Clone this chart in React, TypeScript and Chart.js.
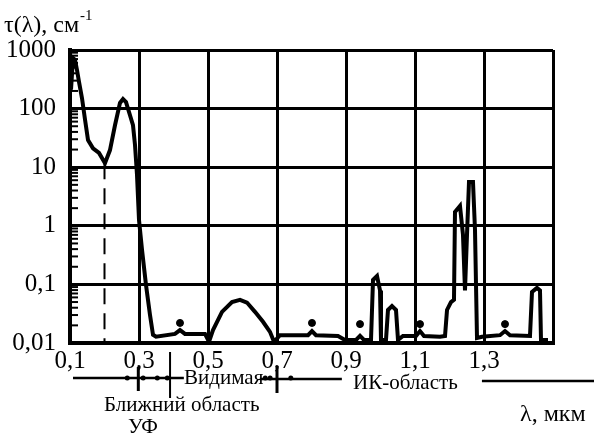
import React, { useEffect, useRef } from "react";
import { Chart, registerables } from "chart.js";

Chart.register(...registerables);

// Wavelength, µm
const WAVELENGTH = [
  0.1029, 0.1087, 0.1145, 0.1203, 0.1261, 0.1348, 0.1435, 0.1522, 0.1667, 0.1841,
  0.2014, 0.2159, 0.2304, 0.2449, 0.2536, 0.2623, 0.2739, 0.2826, 0.2884, 0.2942,
  0.3, 0.3087, 0.3203, 0.3319, 0.3406, 0.3493, 0.4043, 0.4188, 0.4333, 0.4913,
  0.5029, 0.5145, 0.5406, 0.5696, 0.5928, 0.613, 0.6362, 0.6594, 0.6797, 0.6913,
  0.7087, 0.7899, 0.8014, 0.813, 0.8768, 0.8971, 0.929, 0.9406, 0.9522, 0.9725,
  0.9783, 0.9899, 0.9986, 1.0014, 1.0159, 1.0217, 1.0333, 1.0449, 1.0507, 1.0652,
  1.1029, 1.1145, 1.1261, 1.1725, 1.187, 1.1928, 1.2043, 1.213, 1.2159, 1.2304,
  1.2391, 1.2449, 1.2507, 1.2565, 1.2681, 1.2739, 1.2797, 1.2942, 1.3464, 1.3609,
  1.3754, 1.4333, 1.4391, 1.4536, 1.4623, 1.4652, 1.4855,
];
// Absorption coefficient τ(λ), cm^-1
const TAU = [
  210, 730, 680, 455, 285, 150, 65, 29, 21, 17.5,
  11.7, 19.6, 52, 125, 146, 129, 77, 52, 24, 7.4,
  1.26, 0.39, 0.098, 0.03, 0.0138, 0.0128, 0.0143, 0.0166, 0.0143, 0.0143,
  0.0105, 0.0166, 0.034, 0.05, 0.0546, 0.049, 0.034, 0.023, 0.0155, 0.0105,
  0.0136, 0.0136, 0.016, 0.0136, 0.0132, 0.0113, 0.0113, 0.0132, 0.0113, 0.0113,
  0.119, 0.139, 0.079, 0.0113, 0.0113, 0.0366, 0.0427, 0.0366, 0.0113, 0.0132,
  0.0132, 0.016, 0.0132, 0.0128, 0.0132, 0.0366, 0.05, 0.0546, 1.72, 2.18,
  0.7, 0.079, 0.7, 5.6, 5.6, 0.85, 0.0122, 0.0128, 0.0136, 0.016,
  0.0136, 0.0132, 0.074, 0.087, 0.079, 0.0113, 0.0113,
];
// small marks above the baseline
const DOT_X = [0.4188, 0.8014, 0.9406, 1.1145, 1.3609];
const DOT_Y = [0.022, 0.022, 0.021, 0.021, 0.021];
// dashed vertical marker
const DASH_X = [0.2, 0.2];
const DASH_Y = [11.7, 0.01];

const X_TICKS = [0.1, 0.3, 0.5, 0.7, 0.9, 1.1, 1.3, 1.5];
const Y_TICKS = [0.01, 0.1, 1, 10, 100, 1000];
const Y_LABELS = ["0,01", "0,1", "1", "10", "100", "1000"];

const Y_TITLE = "τ(λ), см";
const Y_TITLE_SUP = "-1";
const X_TITLE = "λ, мкм";
const REGION_VIS = "Видимая";
const REGION_UV_1 = "Ближний область";
const REGION_UV_2 = "УФ";
const REGION_IR = "ИК-область";

const FONT = "'Liberation Serif', 'Times New Roman', serif";

const decorPlugin = {
  id: "decor",
  afterDraw(chart: any) {
    const ctx = chart.ctx;
    const xs = chart.scales.x;
    const ys = chart.scales.y;
    const area = chart.chartArea;
    ctx.save();
    // minor comb ticks on left axis
    ctx.strokeStyle = "#000";
    ctx.lineWidth = 2;
    for (let d = -2; d <= 2; d++) {
      for (let k = 2; k <= 9; k++) {
        const py = ys.getPixelForValue(k * Math.pow(10, d));
        ctx.beginPath();
        ctx.moveTo(area.left, py);
        ctx.lineTo(area.left + 8, py);
        ctx.stroke();
      }
    }
    // titles
    ctx.fillStyle = "#000";
    ctx.textBaseline = "alphabetic";
    ctx.textAlign = "left";
    ctx.font = `24px ${FONT}`;
    ctx.fillText(Y_TITLE, 4, 32);
    const w = ctx.measureText(Y_TITLE).width;
    ctx.font = `15px ${FONT}`;
    ctx.fillText(Y_TITLE_SUP, 4 + w + 1, 20);

    ctx.font = `24px ${FONT}`;
    ctx.fillText(X_TITLE, 520, 421);
    ctx.font = `21px ${FONT}`;
    ctx.fillText(REGION_IR, 353, 389);
    ctx.fillText(REGION_UV_1, 104, 411);
    ctx.fillText(REGION_UV_2, 128, 433);
    ctx.fillText(REGION_VIS, 184, 384);

    // region bar
    const yb = 378;
    ctx.lineWidth = 2.5;
    const seg = (a: number, b: number, y: number) => {
      ctx.beginPath();
      ctx.moveTo(a, y);
      ctx.lineTo(b, y);
      ctx.stroke();
    };
    seg(xs.getPixelForValue(0.1) + 3, xs.getPixelForValue(0.43), yb);
    seg(xs.getPixelForValue(0.65), xs.getPixelForValue(0.888), yb + 1);
    seg(xs.getPixelForValue(1.294), 594, yb + 3);
    const vt = (v: number, y1: number, y2: number, lw: number) => {
      const px = xs.getPixelForValue(v);
      ctx.lineWidth = lw;
      ctx.beginPath();
      ctx.moveTo(px, y1);
      ctx.lineTo(px, y2);
      ctx.stroke();
    };
    vt(0.298, 367, 391, 3);
    vt(0.39, 352, 398, 2);
    vt(0.7, 366, 393, 3);
    const dots = [0.266, 0.312, 0.353, 0.382, 0.666, 0.68, 0.74];
    for (const v of dots) {
      ctx.beginPath();
      ctx.arc(xs.getPixelForValue(v), yb, 2.5, 0, Math.PI * 2);
      ctx.fill();
    }
    ctx.restore();
  },
};

export default function App() {
  const ref = useRef<HTMLCanvasElement>(null);
  useEffect(() => {
    if (!ref.current) return;
    const chart = new Chart(ref.current, {
      type: "line",
      data: {
        datasets: [
          {
            data: WAVELENGTH.map((x, i) => ({ x, y: TAU[i] })),
            borderColor: "#000",
            borderWidth: 4,
            pointRadius: 0,
            tension: 0,
            fill: false,
          },
          {
            data: DOT_X.map((x, i) => ({ x, y: DOT_Y[i] })),
            showLine: false,
            pointRadius: 3.5,
            pointBackgroundColor: "#000",
            pointBorderColor: "#000",
          },
          {
            data: DASH_X.map((x, i) => ({ x, y: DASH_Y[i] })),
            borderColor: "#000",
            borderWidth: 2,
            borderDash: [16, 9],
            pointRadius: 0,
          },
        ],
      },
      plugins: [decorPlugin],
      options: {
        responsive: false,
        animation: false,
        events: [],
        layout: { padding: { top: 50, right: 41, left: 0, bottom: 0 } },
        plugins: { legend: { display: false }, tooltip: { enabled: false }, title: { display: false } },
        scales: {
          x: {
            type: "linear",
            min: 0.1,
            max: 1.5,
            afterBuildTicks: (s: any) => {
              s.ticks = X_TICKS.map((v) => ({ value: v }));
            },
            afterFit: (s: any) => {
              s.height = 93;
            },
            ticks: {
              autoSkip: false,
              maxRotation: 0,
              padding: 3,
              color: "#000",
              font: { family: FONT, size: 25 },
              callback: (v: any) => (Math.abs(v - 1.5) < 1e-6 ? "" : Number(v).toFixed(1).replace(".", ",")),
            },
            grid: { color: "#000", lineWidth: 3, drawTicks: false },
            border: { color: "#000", width: 4 },
          },
          y: {
            type: "logarithmic",
            min: 0.01,
            max: 1000,
            afterBuildTicks: (s: any) => {
              s.ticks = Y_TICKS.map((v) => ({ value: v }));
            },
            afterFit: (s: any) => {
              s.width = 70;
            },
            ticks: {
              autoSkip: false,
              padding: 14,
              color: "#000",
              font: { family: FONT, size: 25 },
              callback: (v: any) => {
                const i = Y_TICKS.findIndex((t) => Math.abs(t - v) / t < 1e-6);
                return i >= 0 ? Y_LABELS[i] : "";
              },
            },
            grid: { color: "#000", lineWidth: 3, drawTicks: false },
            border: { color: "#000", width: 4 },
          },
        },
      },
    });
    return () => chart.destroy();
  }, []);
  return (
    <div style={{ position: "absolute", left: 0, top: 0, width: 594, height: 436, background: "#fff" }}>
      <canvas ref={ref} width={594} height={436} />
    </div>
  );
}
